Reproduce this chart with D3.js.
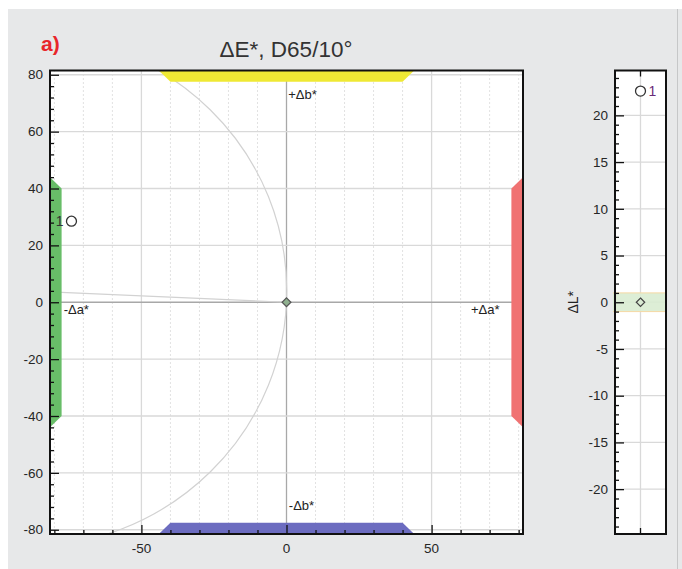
<!DOCTYPE html>
<html>
<head>
<meta charset="utf-8">
<script src="https://cdn.jsdelivr.net/npm/d3@7"></script>
<style>
  body { margin: 0; background: #fff; }
  text { font-family: "Liberation Sans", Arial, sans-serif; }
</style>
</head>
<body>
<div id="chart"></div>
<script>
// Chart data
const sampleNames = ["1"];
const sampleDa = [-74.1];
const sampleDb = [28.5];
const sampleDL = [22.6];

// standard colour (absolute a*, b*) -> constant chroma circle and hue line
const standardA = [90];
const standardB = [-4];

// tolerance bands: inner / outer limits in da*, db*
const bandInner = [40, 77.5];
const bandOuter = [44, 81.5];
const dLTolerance = [-1, 1];

const abMajorX = [-50, 0, 50];
const abMinorX = d3.range(-80, 81, 10);
const abMajorY = d3.range(-80, 81, 20);
const abMinorY = d3.range(-80, 81, 4);
const dLMajor = d3.range(-20, 21, 5);
const dLMinor = d3.range(-24, 25, 1);

const width = 682, height = 569;

const svg = d3.select("#chart").append("svg")
    .attr("width", width)
    .attr("height", height);

// window panel
svg.append("rect").attr("x", 8).attr("y", 9).attr("width", 674).attr("height", 560).attr("fill", "#e7e8e9");
svg.append("rect").attr("x", 677).attr("y", 9).attr("width", 1).attr("height", 560).attr("fill", "#c6c7c8");

svg.append("text").attr("x", 41).attr("y", 51)
    .attr("font-size", 21).attr("font-weight", "bold").attr("fill", "#e8262a")
    .text("a)");

svg.append("text").attr("x", 286).attr("y", 57)
    .attr("text-anchor", "middle").attr("font-size", 22.5).attr("fill", "#333")
    .text("ΔE*, D65/10°");

// ---------- a*b* plot ----------
const x = d3.scaleLinear().domain([-81.5, 81.5]).range([50, 523]);
const y = d3.scaleLinear().domain([-81.5, 81.5]).range([534, 70.5]);

svg.append("defs").append("clipPath").attr("id", "clipAB")
    .append("rect").attr("x", 50).attr("y", 70.5).attr("width", 473).attr("height", 463.5);

const plot = svg.append("g").attr("clip-path", "url(#clipAB)");

plot.append("rect").attr("x", 50).attr("y", 70.5).attr("width", 473).attr("height", 463.5).attr("fill", "#fff");

// minor dotted verticals
plot.append("g").selectAll("line")
    .data(abMinorX.filter(d => !abMajorX.includes(d)))
    .join("line")
    .attr("x1", d => x(d)).attr("x2", d => x(d))
    .attr("y1", y(81.5)).attr("y2", y(-81.5))
    .attr("stroke", "#c4c4c4").attr("stroke-dasharray", "1,3");

// major grid
plot.append("g").selectAll("line")
    .data(abMajorX)
    .join("line")
    .attr("x1", d => x(d)).attr("x2", d => x(d))
    .attr("y1", y(81.5)).attr("y2", y(-81.5))
    .attr("stroke", d => d === 0 ? "#a8a8a8" : "#d9d9d9").attr("stroke-width", 1.3);

plot.append("g").selectAll("line")
    .data(abMajorY)
    .join("line")
    .attr("x1", x(-81.5)).attr("x2", x(81.5))
    .attr("y1", d => y(d)).attr("y2", d => y(d))
    .attr("stroke", d => d === 0 ? "#a8a8a8" : "#d9d9d9").attr("stroke-width", 1.3);

// constant chroma circle and hue line of the standard
const cx = -standardA[0], cy = -standardB[0];
const r = Math.hypot(cx, cy);
plot.append("circle")
    .attr("cx", x(cx)).attr("cy", y(cy))
    .attr("r", x(cx + r) - x(cx))
    .attr("transform", `translate(${x(cx)},${y(cy)}) scale(1,${(y(0) - y(1)) / (x(1) - x(0))}) translate(${-x(cx)},${-y(cy)})`)
    .attr("fill", "none").attr("stroke", "#d2d2d2").attr("stroke-width", 1.2);

const hueEnd = -81.5;
plot.append("line")
    .attr("x1", x(0)).attr("y1", y(0))
    .attr("x2", x(hueEnd)).attr("y2", y(hueEnd * cy / cx))
    .attr("stroke", "#d2d2d2").attr("stroke-width", 1.2);

// tolerance bands
const [i0, i1] = bandInner, [o0, o1] = bandOuter;
const bands = [
    { c: "#efe934", p: [[-o0, o1], [o0, o1], [i0, i1], [-i0, i1]] },
    { c: "#6c6cc0", p: [[-o0, -o1], [o0, -o1], [i0, -i1], [-i0, -i1]] },
    { c: "#68bd68", p: [[-o1, o0], [-o1, -o0], [-i1, -i0], [-i1, i0]] },
    { c: "#f07272", p: [[o1, o0], [o1, -o0], [i1, -i0], [i1, i0]] }
];
plot.append("g").selectAll("path")
    .data(bands)
    .join("path")
    .attr("d", d => d3.line().x(p => x(p[0])).y(p => y(p[1]))(d.p) + "Z")
    .attr("fill", d => d.c);

// axes
const axisLeft = svg.append("g").attr("transform", `translate(${x(-81.5)},0)`);
axisLeft.call(d3.axisRight(y).tickValues(abMinorY.filter(d => !abMajorY.includes(d))).tickSize(4).tickFormat(""));
axisLeft.append("g").call(d3.axisRight(y).tickValues(abMajorY).tickSize(9).tickFormat(""));
axisLeft.selectAll("line").attr("stroke", "#111").attr("stroke-width", 1.3);
axisLeft.selectAll(".domain").remove();

svg.append("g").selectAll("text")
    .data(abMajorY)
    .join("text")
    .attr("x", 43).attr("y", d => y(d)).attr("dy", "0.35em")
    .attr("text-anchor", "end").attr("font-size", 13.5).attr("fill", "#262626")
    .text(d => d);

const axisBottom = svg.append("g").attr("transform", `translate(0,${y(-81.5)})`);
axisBottom.call(d3.axisTop(x).tickValues(abMinorX.filter(d => !abMajorX.includes(d))).tickSize(4).tickFormat(""));
axisBottom.append("g").call(d3.axisTop(x).tickValues(abMajorX).tickSize(9).tickFormat(""));
axisBottom.selectAll("line").attr("stroke", "#111").attr("stroke-width", 1.3);
axisBottom.selectAll(".domain").remove();

svg.append("g").selectAll("text")
    .data(abMajorX)
    .join("text")
    .attr("x", d => x(d)).attr("y", 553)
    .attr("text-anchor", "middle").attr("font-size", 13.5).attr("fill", "#262626")
    .text(d => d);

svg.append("rect").attr("x", 50).attr("y", 70.5).attr("width", 473).attr("height", 463.5)
    .attr("fill", "none").attr("stroke", "#111").attr("stroke-width", 2);

// direction labels
const dirLabels = [
    { t: "+Δb*", a: 0.6, b: 71.5, anchor: "start" },
    { t: "-Δb*", a: 0.8, b: -73, anchor: "start" },
    { t: "-Δa*", a: -76.8, b: -4.2, anchor: "start" },
    { t: "+Δa*", a: 73.4, b: -4.2, anchor: "end" }
];
svg.append("g").selectAll("text")
    .data(dirLabels)
    .join("text")
    .attr("x", d => x(d.a)).attr("y", d => y(d.b))
    .attr("text-anchor", d => d.anchor).attr("font-size", 13).attr("fill", "#222")
    .text(d => d.t);

// standard and samples
svg.append("path")
    .attr("d", d3.symbol(d3.symbolDiamond2, 50)())
    .attr("transform", `translate(${x(0)},${y(0)})`)
    .attr("fill", "#8fb08f").attr("stroke", "#555").attr("stroke-width", 1.2);

svg.append("g").selectAll("circle")
    .data(sampleNames)
    .join("circle")
    .attr("cx", (d, i) => x(sampleDa[i])).attr("cy", (d, i) => y(sampleDb[i]))
    .attr("r", 5).attr("fill", "#fff").attr("stroke", "#333").attr("stroke-width", 1.3);

svg.append("g").selectAll("text")
    .data(sampleNames)
    .join("text")
    .attr("x", (d, i) => x(sampleDa[i]) - 8).attr("y", (d, i) => y(sampleDb[i])).attr("dy", "0.36em")
    .attr("text-anchor", "end").attr("font-size", 14).attr("fill", "#333")
    .text(d => d);

// ---------- dL* plot ----------
const lx = d3.scaleLinear().domain([-1, 1]).range([615, 666]);
const ly = d3.scaleLinear().domain([-24.8, 24.8]).range([534, 70.5]);

svg.append("rect").attr("x", 615).attr("y", 70.5).attr("width", 51).attr("height", 463.5).attr("fill", "#fff");

svg.append("g").selectAll("line")
    .data(dLMajor)
    .join("line")
    .attr("x1", lx(-1)).attr("x2", lx(1))
    .attr("y1", d => ly(d)).attr("y2", d => ly(d))
    .attr("stroke", "#d9d9d9").attr("stroke-width", 1.3);

svg.append("line")
    .attr("x1", lx(0)).attr("x2", lx(0)).attr("y1", ly(24.8)).attr("y2", ly(-24.8))
    .attr("stroke", "#d9d9d9").attr("stroke-width", 1.3);

svg.append("rect")
    .attr("x", lx(-1) - 2).attr("width", lx(1) - lx(-1) + 2)
    .attr("y", ly(dLTolerance[1])).attr("height", ly(dLTolerance[0]) - ly(dLTolerance[1]))
    .attr("fill", "#d9ecd1").attr("fill-opacity", 0.9);
svg.append("g").selectAll("line")
    .data(dLTolerance)
    .join("line")
    .attr("x1", lx(-1) - 2).attr("x2", lx(1))
    .attr("y1", d => ly(d)).attr("y2", d => ly(d))
    .attr("stroke", "#f6d9a4").attr("stroke-width", 1);

const axisL = svg.append("g").attr("transform", `translate(${lx(-1)},0)`);
axisL.call(d3.axisRight(ly).tickValues(dLMinor.filter(d => !dLMajor.includes(d))).tickSize(4).tickFormat(""));
axisL.append("g").call(d3.axisRight(ly).tickValues(dLMajor).tickSize(9).tickFormat(""));
axisL.selectAll("line").attr("stroke", "#111").attr("stroke-width", 1.3);
axisL.selectAll(".domain").remove();

svg.append("g").selectAll("line")
    .data([[ly(24.8), 6], [ly(-24.8), -6]])
    .join("line")
    .attr("x1", lx(0)).attr("x2", lx(0))
    .attr("y1", d => d[0]).attr("y2", d => d[0] + d[1])
    .attr("stroke", "#111").attr("stroke-width", 1.3);

svg.append("g").selectAll("text")
    .data(dLMajor)
    .join("text")
    .attr("x", 608).attr("y", d => ly(d)).attr("dy", "0.35em")
    .attr("text-anchor", "end").attr("font-size", 13.5).attr("fill", "#262626")
    .text(d => d);

svg.append("rect").attr("x", 615).attr("y", 70.5).attr("width", 51).attr("height", 463.5)
    .attr("fill", "none").attr("stroke", "#111").attr("stroke-width", 2);

svg.append("text")
    .attr("transform", `translate(578,${ly(0)}) rotate(-90)`)
    .attr("text-anchor", "middle").attr("font-size", 14).attr("fill", "#222")
    .text("ΔL*");

svg.append("path")
    .attr("d", d3.symbol(d3.symbolDiamond2, 45)())
    .attr("transform", `translate(${lx(0)},${ly(0)})`)
    .attr("fill", "none").attr("stroke", "#444").attr("stroke-width", 1.2);

svg.append("g").selectAll("circle")
    .data(sampleNames)
    .join("circle")
    .attr("cx", lx(0)).attr("cy", (d, i) => ly(sampleDL[i]))
    .attr("r", 5).attr("fill", "#fff").attr("stroke", "#333").attr("stroke-width", 1.3);

svg.append("g").selectAll("text")
    .data(sampleNames)
    .join("text")
    .attr("x", lx(0) + 8).attr("y", (d, i) => ly(sampleDL[i])).attr("dy", "0.36em")
    .attr("font-size", 14).attr("fill", "#6a2c78")
    .text(d => d);
</script>
</body>
</html>
